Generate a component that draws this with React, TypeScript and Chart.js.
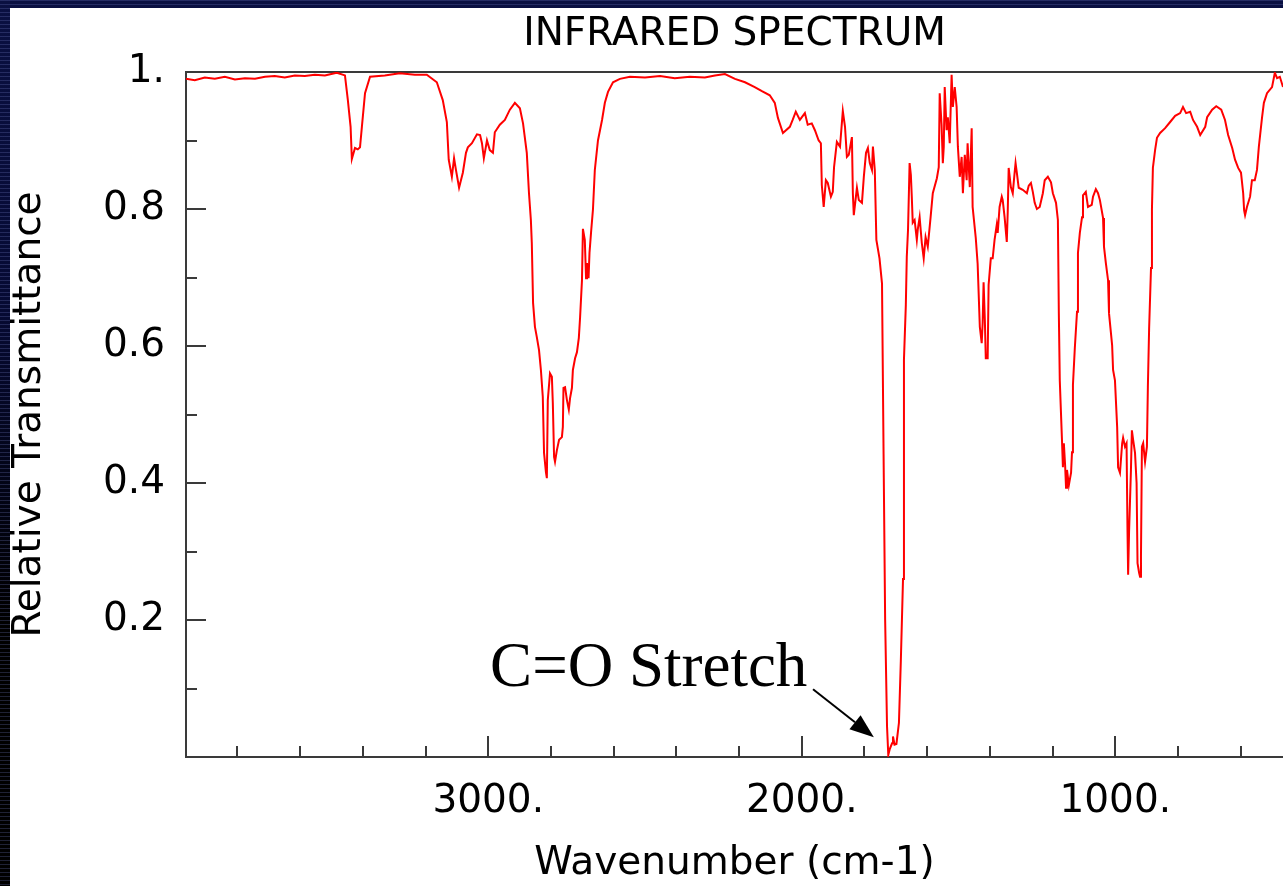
import React, { useEffect, useRef } from "react";
import { Chart, registerables } from "chart.js";

Chart.register(...registerables);

// ---------- data ----------
const WAVENUMBER = [
  3964, 3936, 3904, 3872, 3840, 3808, 3776, 3744, 3712, 3681, 3649, 3617, 3585, 3553, 3521, 3483,
  3457, 3448, 3439, 3435, 3425, 3416, 3409, 3403, 3393, 3377, 3330, 3282, 3234, 3196, 3164, 3145,
  3132, 3126, 3116, 3109, 3103, 3093, 3081, 3071, 3065, 3052, 3036, 3026, 3020, 3014, 3004, 2995,
  2985, 2979, 2963, 2947, 2931, 2915, 2899, 2889, 2877, 2870, 2864, 2861, 2857, 2851, 2845, 2838,
  2832, 2826, 2822, 2816, 2813, 2810, 2803, 2797, 2794, 2790, 2787, 2781, 2774, 2765, 2762, 2760,
  2755, 2749, 2743, 2739, 2733, 2730, 2723, 2717, 2711, 2707, 2701, 2698, 2692, 2688, 2685, 2680,
  2677, 2672, 2666, 2660, 2650, 2637, 2628, 2618, 2602, 2580, 2548, 2500, 2452, 2405, 2357, 2309,
  2277, 2245, 2213, 2181, 2150, 2127, 2102, 2086, 2076, 2060, 2038, 2029, 2019, 2006, 1990, 1981,
  1968, 1958, 1946, 1939, 1936, 1930, 1923, 1917, 1907, 1901, 1897, 1888, 1878, 1869, 1862, 1856,
  1850, 1840, 1837, 1834, 1824, 1818, 1808, 1802, 1795, 1789, 1783, 1776, 1773, 1767, 1762, 1752,
  1744, 1739, 1734, 1728, 1724, 1719, 1712, 1709, 1704, 1698, 1690, 1684, 1677, 1674, 1668, 1665,
  1661, 1656, 1652, 1649, 1646, 1640, 1633, 1630, 1624, 1617, 1611, 1605, 1598, 1589, 1582, 1569,
  1563, 1560, 1554, 1550, 1547, 1544, 1538, 1534, 1528, 1522, 1518, 1512, 1506, 1502, 1496, 1490,
  1486, 1480, 1474, 1471, 1464, 1458, 1455, 1445, 1439, 1432, 1426, 1423, 1420, 1416, 1413, 1407,
  1404, 1397, 1391, 1385, 1378, 1375, 1369, 1362, 1359, 1353, 1346, 1343, 1340, 1333, 1327, 1321,
  1318, 1314, 1308, 1295, 1282, 1276, 1269, 1263, 1257, 1250, 1241, 1231, 1225, 1215, 1205, 1199,
  1189, 1183, 1180, 1177, 1170, 1167, 1164, 1160, 1157, 1154, 1148, 1141, 1138, 1135, 1129, 1122,
  1119, 1113, 1106, 1103, 1094, 1087, 1075, 1071, 1062, 1055, 1049, 1039, 1036, 1030, 1023, 1020,
  1014, 1010, 1007, 1001, 994, 991, 985, 978, 975, 969, 964, 961, 959, 956, 950, 947,
  943, 937, 932, 929, 924, 921, 918, 915, 911, 905, 899, 896, 892, 886, 883, 880,
  873, 867, 857, 841, 825, 809, 793, 784, 774, 761, 752, 739, 729, 713, 707, 691,
  678, 662, 650, 640, 627, 618, 608, 599, 592, 589, 586, 580, 570, 564, 555, 548,
  542, 532, 526, 516, 500, 491, 484, 475, 465,
];

const TRANSMITTANCE = [
  0.99, 0.988, 0.992, 0.99, 0.993, 0.989, 0.991, 0.99, 0.993, 0.994, 0.992, 0.995, 0.994, 0.996, 0.995, 0.999,
  0.995, 0.96, 0.92, 0.873, 0.889, 0.887, 0.89, 0.92, 0.969, 0.993, 0.995, 0.998, 0.996, 0.996, 0.985, 0.959,
  0.927, 0.872, 0.847, 0.874, 0.857, 0.831, 0.853, 0.882, 0.89, 0.896, 0.909, 0.908, 0.896, 0.874, 0.9, 0.886,
  0.882, 0.912, 0.923, 0.93, 0.945, 0.955, 0.947, 0.925, 0.882, 0.823, 0.784, 0.75, 0.663, 0.628, 0.613, 0.594,
  0.565, 0.526, 0.444, 0.416, 0.407, 0.521, 0.56, 0.555, 0.517, 0.438, 0.431, 0.448, 0.463, 0.467, 0.482, 0.539,
  0.54, 0.521, 0.507, 0.524, 0.539, 0.565, 0.582, 0.591, 0.612, 0.642, 0.696, 0.771, 0.755, 0.699, 0.721, 0.699,
  0.736, 0.766, 0.799, 0.857, 0.9, 0.93, 0.955, 0.971, 0.985, 0.99, 0.993, 0.992, 0.994, 0.991, 0.993, 0.992,
  0.995, 0.997, 0.99, 0.985, 0.978, 0.972, 0.966, 0.955, 0.933, 0.911, 0.92, 0.93, 0.942, 0.93, 0.94, 0.923,
  0.925, 0.915, 0.9, 0.896, 0.835, 0.803, 0.842, 0.838, 0.818, 0.825, 0.861, 0.898, 0.891, 0.943, 0.92, 0.876,
  0.879, 0.905, 0.823, 0.791, 0.831, 0.813, 0.809, 0.847, 0.882, 0.889, 0.867, 0.857, 0.891, 0.857, 0.755, 0.728,
  0.691, 0.442, 0.2, 0.045, 0.003, 0.012, 0.02, 0.03, 0.018, 0.019, 0.05, 0.14, 0.26, 0.58, 0.66, 0.73,
  0.77, 0.867, 0.85, 0.818, 0.78, 0.784, 0.755, 0.77, 0.788, 0.75, 0.728, 0.759, 0.745, 0.788, 0.823, 0.845,
  0.861, 0.969, 0.923, 0.867, 0.891, 0.978, 0.915, 0.934, 0.896, 0.996, 0.949, 0.978, 0.949, 0.891, 0.847, 0.876,
  0.823, 0.879, 0.842, 0.896, 0.832, 0.918, 0.803, 0.758, 0.72, 0.628, 0.604, 0.634, 0.693, 0.638, 0.582, 0.582,
  0.689, 0.728, 0.728, 0.755, 0.777, 0.765, 0.803, 0.818, 0.813, 0.788, 0.752, 0.796, 0.86, 0.832, 0.823, 0.853,
  0.867, 0.853, 0.831, 0.828, 0.823, 0.834, 0.838, 0.825, 0.809, 0.8, 0.803, 0.823, 0.842, 0.847, 0.839, 0.823,
  0.809, 0.784, 0.648, 0.55, 0.463, 0.423, 0.458, 0.426, 0.393, 0.419, 0.397, 0.415, 0.445, 0.543, 0.597, 0.65,
  0.736, 0.765, 0.788, 0.82, 0.825, 0.803, 0.806, 0.818, 0.829, 0.823, 0.813, 0.787, 0.745, 0.721, 0.696, 0.648,
  0.62, 0.601, 0.565, 0.55, 0.482, 0.423, 0.415, 0.458, 0.466, 0.453, 0.458, 0.331, 0.266, 0.328, 0.419, 0.477,
  0.463, 0.444, 0.4, 0.283, 0.269, 0.263, 0.292, 0.453, 0.458, 0.431, 0.453, 0.54, 0.626, 0.714, 0.8, 0.86,
  0.886, 0.904, 0.911, 0.918, 0.927, 0.936, 0.94, 0.949, 0.94, 0.942, 0.93, 0.92, 0.908, 0.92, 0.934, 0.945,
  0.95, 0.945, 0.93, 0.908, 0.889, 0.872, 0.86, 0.853, 0.823, 0.798, 0.791, 0.803, 0.818, 0.842, 0.842, 0.857,
  0.891, 0.933, 0.955, 0.969, 0.978, 0.999, 0.991, 0.993, 0.978,
];

const X_LABEL_TICKS = [3000, 2000, 1000];
const X_MINOR_TICKS = [3800, 3600, 3400, 3200, 2800, 2600, 2400, 2200, 1800, 1600, 1400, 1200, 800, 600];
const Y_LABEL_TICKS = [0.2, 0.4, 0.6, 0.8, 1];
const Y_MINOR_TICKS = [0.1, 0.3, 0.5, 0.7, 0.9];
const X_MIN = 465;
const X_MAX = 3964;

const TITLE = "INFRARED SPECTRUM";
const X_TITLE = "Wavenumber (cm-1)";
const Y_TITLE = "Relative Transmittance";
const NOTE_TEXT = "C=O Stretch";

// ---------- styling ----------
const FONT = '"DejaVu Sans", Verdana, sans-serif';
const AXIS_COLOR = "#3a3a3a";
const W = 1273;
const H = 878;

const innerTicks = {
  id: "innerTicks",
  beforeDatasetsDraw(chart: any) {
    const { ctx, chartArea, scales } = chart;
    const x = scales.x;
    const y = scales.y;
    ctx.save();
    ctx.strokeStyle = AXIS_COLOR;
    ctx.lineWidth = 2;
    ctx.beginPath();
    const xt = (v: number, len: number) => {
      const px = Math.round(x.getPixelForValue(v));
      ctx.moveTo(px, chartArea.bottom);
      ctx.lineTo(px, chartArea.bottom - len);
    };
    X_LABEL_TICKS.forEach((v) => xt(v, 21));
    X_MINOR_TICKS.forEach((v) => xt(v, 11));
    const yt = (v: number, len: number) => {
      const py = Math.round(y.getPixelForValue(v));
      ctx.moveTo(chartArea.left, py);
      ctx.lineTo(chartArea.left + len, py);
    };
    Y_LABEL_TICKS.filter((v) => v < 1).forEach((v) => yt(v, 20));
    Y_MINOR_TICKS.forEach((v) => yt(v, 11));
    ctx.stroke();
    ctx.restore();
  },
};

const noteArrow = {
  id: "noteArrow",
  afterDraw(chart: any) {
    const { ctx, scales } = chart;
    const x = scales.x;
    const y = scales.y;
    const tx = x.getPixelForValue(2994);
    const ty = y.getPixelForValue(0.1036);
    ctx.save();
    ctx.fillStyle = "#000";
    ctx.font = '63px "Liberation Serif", "Times New Roman", serif';
    ctx.textAlign = "left";
    ctx.textBaseline = "alphabetic";
    ctx.fillText(NOTE_TEXT, tx, ty);

    const x0 = x.getPixelForValue(1964);
    const y0 = y.getPixelForValue(0.099);
    const x1 = x.getPixelForValue(1770);
    const y1 = y.getPixelForValue(0.029);
    const ang = Math.atan2(y1 - y0, x1 - x0);
    const headLen = 24;
    const headHalf = 9;
    const bx = x1 - headLen * Math.cos(ang);
    const by = y1 - headLen * Math.sin(ang);
    ctx.strokeStyle = "#000";
    ctx.lineWidth = 2;
    ctx.beginPath();
    ctx.moveTo(x0, y0);
    ctx.lineTo(bx, by);
    ctx.stroke();
    ctx.beginPath();
    ctx.moveTo(x1, y1);
    ctx.lineTo(bx + headHalf * Math.sin(ang), by - headHalf * Math.cos(ang));
    ctx.lineTo(bx - headHalf * Math.sin(ang), by + headHalf * Math.cos(ang));
    ctx.closePath();
    ctx.fill();
    ctx.restore();
  },
};

export default function App() {
  const ref = useRef<HTMLCanvasElement | null>(null);

  useEffect(() => {
    if (!ref.current) return;
    const points = WAVENUMBER.map((w, i) => ({ x: w, y: TRANSMITTANCE[i] }));
    const chart = new Chart(ref.current, {
      type: "line",
      data: {
        datasets: [
          {
            data: points,
            borderColor: "#ff0000",
            borderWidth: 2,
            pointRadius: 0,
            tension: 0,
            fill: false,
          },
        ],
      },
      options: {
        responsive: false,
        animation: false,
        events: [],
        layout: { padding: 0 },
        plugins: {
          legend: { display: false },
          title: { display: false },
          tooltip: { enabled: false },
        },
        scales: {
          x: {
            type: "linear",
            position: "bottom",
            reverse: true,
            min: X_MIN,
            max: X_MAX,
            grid: { display: false, drawTicks: false },
            border: { display: true, color: AXIS_COLOR, width: 2 },
            afterBuildTicks: (s: any) => {
              s.ticks = X_LABEL_TICKS.map((v) => ({ value: v }));
            },
            afterFit: (s: any) => {
              s.height = 129;
            },
            ticks: {
              color: "#000",
              padding: 25,
              maxRotation: 0,
              autoSkip: false,
              font: { family: FONT, size: 39, lineHeight: 1 },
              callback: (v: any) => `${v}.`,
            },
            title: {
              display: true,
              text: X_TITLE,
              color: "#000",
              font: { family: FONT, size: 39, lineHeight: 1 },
              padding: { top: 0, bottom: 3 },
            },
          },
          xTop: {
            type: "linear",
            position: "top",
            reverse: true,
            min: X_MIN,
            max: X_MAX,
            grid: { display: false, drawTicks: false },
            border: { display: true, color: AXIS_COLOR, width: 2 },
            ticks: { display: false },
            afterFit: (s: any) => {
              s.height = 64;
            },
            title: {
              display: true,
              text: TITLE,
              color: "#000",
              font: { family: FONT, size: 39, lineHeight: 1 },
              padding: { top: 7, bottom: 0 },
            },
          },
          y: {
            type: "linear",
            position: "left",
            min: 0,
            max: 1,
            grid: { display: false, drawTicks: false },
            border: { display: true, color: AXIS_COLOR, width: 2 },
            afterBuildTicks: (s: any) => {
              s.ticks = Y_LABEL_TICKS.map((v) => ({ value: v }));
            },
            afterFit: (s: any) => {
              s.width = 176;
            },
            ticks: {
              color: "#000",
              padding: 21,
              autoSkip: false,
              font: { family: FONT, size: 39, lineHeight: 1 },
              callback: (v: any) => (v === 1 ? "1." : String(v)),
            },
            title: {
              display: true,
              text: Y_TITLE,
              color: "#000",
              font: { family: FONT, size: 39, lineHeight: 1 },
              padding: { top: 0, bottom: 0 },
            },
          },
        },
      } as any,
      plugins: [innerTicks, noteArrow],
    });
    return () => chart.destroy();
  }, []);

  return (
    <div
      style={{
        position: "fixed",
        inset: 0,
        overflow: "hidden",
        background:
          "repeating-linear-gradient(180deg, rgba(110,120,190,0.28) 0px, rgba(110,120,190,0.28) 1px, rgba(0,0,0,0) 1px, rgba(0,0,0,0) 4px), linear-gradient(180deg, #0a1042 0%, #060a33 35%, #000000 70%)",
      }}
    >
      <div
        style={{
          position: "absolute",
          left: 10,
          top: 8,
          width: W,
          height: H,
          background: "#ffffff",
        }}
      >
        <canvas ref={ref} width={W} height={H} style={{ display: "block", width: W, height: H }} />
      </div>
    </div>
  );
}
